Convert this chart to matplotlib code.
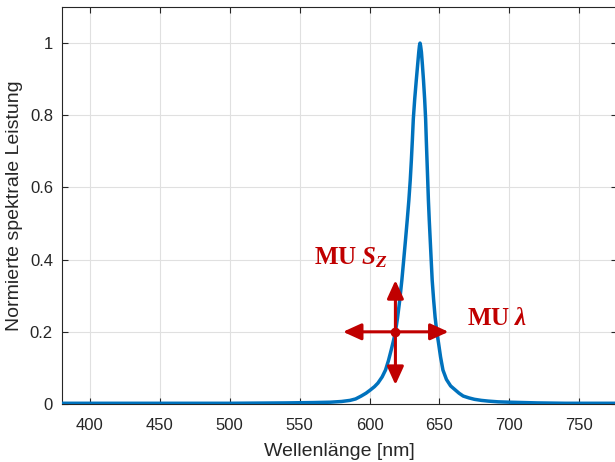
import numpy as np
import matplotlib.pyplot as plt

# spectrum (wavelength in nm, normalised power)
wavelength = [380, 420, 460, 500, 540, 560, 572, 580, 586, 590, 594, 597.5, 600.6, 603.5,
              606, 609, 611.4, 613.5, 615.5, 617.2, 618.5, 620, 621.5, 623.1, 624.4, 625.7,
              627, 628.1, 629.1, 629.9, 630.6, 631.3, 632.3, 633.4, 634.4, 635.2, 635.7,
              636.1, 636.5, 637.1, 637.8, 638.6, 639.4, 640.1, 640.6, 641.1, 641.6, 642.1,
              642.7, 643.4, 644.1, 644.8, 645.8, 646.9, 648.1, 649.3, 650.8, 652.5, 655,
              658, 661.3, 664, 667, 671, 675, 680, 685, 692, 700, 720, 740, 777]
power = [0.002, 0.002, 0.002, 0.002, 0.003, 0.004, 0.005, 0.007, 0.010, 0.014, 0.022, 0.030,
         0.039, 0.048, 0.058, 0.075, 0.094, 0.120, 0.150, 0.177, 0.200, 0.238, 0.285, 0.343,
         0.398, 0.454, 0.512, 0.564, 0.620, 0.675, 0.730, 0.790, 0.845, 0.896, 0.940, 0.975,
         0.993, 1.000, 0.993, 0.975, 0.940, 0.896, 0.845, 0.790, 0.730, 0.675, 0.620, 0.564,
         0.510, 0.454, 0.398, 0.343, 0.290, 0.240, 0.200, 0.170, 0.130, 0.094, 0.068, 0.050,
         0.039, 0.030, 0.022, 0.017, 0.013, 0.010, 0.008, 0.006, 0.005, 0.003, 0.002, 0.002]

# crosshair (MU markers)
cross_x, cross_y = 618.5, 0.2
h_left, h_right = 581, 656.5
v_top, v_bottom = 0.343, 0.053

xticks = [400, 450, 500, 550, 600, 650, 700, 750]
yticks = [0, 0.2, 0.4, 0.6, 0.8, 1]
ylabels = ['0', '0.2', '0.4', '0.6', '0.8', '1']

blue = '#0072BD'
red = '#C00000'
dark = '#262626'

plt.rcParams['font.family'] = ['Liberation Sans', 'DejaVu Sans']
plt.rcParams['mathtext.fontset'] = 'custom'
plt.rcParams['mathtext.rm'] = 'Liberation Serif:bold'
plt.rcParams['mathtext.it'] = 'Liberation Serif:italic:bold'
plt.rcParams['mathtext.bf'] = 'Liberation Serif:bold'

fig = plt.figure(figsize=(6.15, 4.62), dpi=100)
ax = fig.add_axes([62/615, 58/462, 555/615, 397/462])

ax.plot(wavelength, power, color=blue, lw=2.5, solid_joinstyle='round', zorder=3)

# arrows
arrow_kw = dict(arrowstyle='-|>,head_length=1.1,head_width=0.5', color=red, lw=2.2,
                shrinkA=0, shrinkB=0)
ax.annotate('', xy=(h_left, cross_y), xytext=(cross_x, cross_y), arrowprops=arrow_kw, zorder=4)
ax.annotate('', xy=(h_right, cross_y), xytext=(cross_x, cross_y), arrowprops=arrow_kw, zorder=4)
ax.annotate('', xy=(cross_x, v_top), xytext=(cross_x, cross_y), arrowprops=arrow_kw, zorder=4)
ax.annotate('', xy=(cross_x, v_bottom), xytext=(cross_x, cross_y), arrowprops=arrow_kw, zorder=4)
ax.plot([cross_x], [cross_y], 'o', color=red, ms=6, zorder=5)

serif = ['Liberation Serif', 'DejaVu Serif']
ax.text(560.3, 0.404, r'MU $S_Z$', color=red, fontsize=18, fontweight='bold',
        family=serif, va='center', ha='left')
ax.text(669.5, 0.238, r'MU $\lambda$', color=red, fontsize=18, fontweight='bold',
        family=serif, va='center', ha='left')

ax.set_xlim(380, 777)
ax.set_ylim(0, 1.1)
ax.set_xticks(xticks)
ax.set_yticks(yticks)
ax.set_yticklabels(ylabels)
ax.tick_params(direction='in', top=True, right=True, labelsize=12, colors=dark,
               length=4, width=0.8)
ax.tick_params(axis='x', pad=10)
ax.tick_params(axis='y', pad=6.5)
ax.grid(True, color='#e0e0e0', lw=0.8)
ax.set_axisbelow(True)
for s in ax.spines.values():
    s.set_color(dark)
    s.set_linewidth(0.8)

ax.set_xlabel('Wellenlänge [nm]', fontsize=14, color=dark, labelpad=7)
ax.set_ylabel('Normierte spektrale Leistung', fontsize=14, color=dark)
ax.yaxis.set_label_coords(-0.070, 0.5)

fig.savefig('out.png', dpi=100)
